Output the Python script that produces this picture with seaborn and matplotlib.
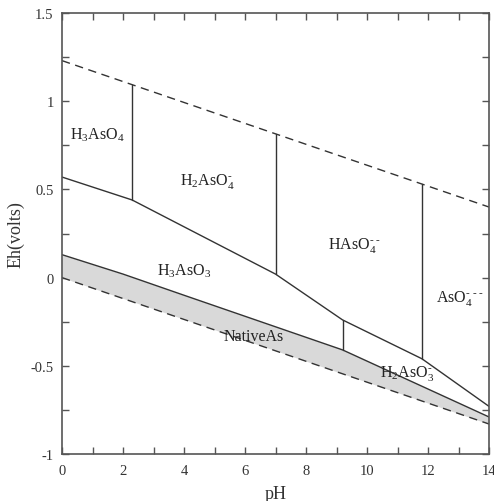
import matplotlib
matplotlib.use("Agg")
import matplotlib.pyplot as plt
import seaborn as sns
import numpy as np

# Boundary data (pH, Eh)
ph_upper = [0.0, 2.3, 7.0, 9.2, 11.8, 14.0]
eh_upper = [0.57, 0.44, 0.02, -0.24, -0.46, -0.73]
ph_lower = [0.0, 2.0, 4.0, 9.2, 14.0]
eh_lower = [0.13, 0.02, -0.10, -0.41, -0.79]
ph_water = [0.0, 14.0]
eh_water_top = [1.23, 0.40]
eh_water_bot = [0.0, -0.83]
ph_shade = [0.0, 2.0, 4.0, 9.2, 14.0]
eh_shade_bot = [0.0, -0.118, -0.236, -0.545, -0.83]

# Vertical boundaries: pH, bottom Eh, top Eh
vert_ph = [2.3, 7.0, 9.2, 11.8]
vert_bot = [0.44, 0.02, -0.41, -0.46]
vert_top = [1.09, 0.815, -0.24, 0.53]

D = "\\text{-}"
labels = ["H$_3$AsO$_4$", "H$_2$AsO$_4^{" + D + "}$",
          "HAsO$_4^{" + D + "\\,\\," + D + "}$",
          "H$_3$AsO$_3$", "NativeAs",
          "AsO$_4^{" + D + "\\,\\," + D + "\\,\\," + D + "}$",
          "H$_2$AsO$_3^{" + D + "}$"]
label_ph = [1.15, 4.75, 9.6, 4.0, 6.3, 13.05, 11.3]
label_eh = [0.81, 0.55, 0.19, 0.04, -0.33, -0.11, -0.54]

sns.set_theme(style="ticks")
plt.rcParams["font.family"] = ["Liberation Serif", "DejaVu Serif"]
plt.rcParams["mathtext.fontset"] = "custom"
plt.rcParams["mathtext.rm"] = "Liberation Serif"
plt.rcParams["mathtext.it"] = "Liberation Serif"
plt.rcParams["mathtext.bf"] = "Liberation Serif"

fig = plt.figure(figsize=(4.94, 5.02), dpi=100)
ax = fig.add_axes([62/494, 1 - 455/502, (489-62)/494, (455-14)/502])

lc = "#333333"
ax.fill_between(ph_shade, eh_shade_bot, eh_lower, color="#d9d9d9", lw=0, zorder=1)
sns.lineplot(x=ph_upper, y=eh_upper, ax=ax, color=lc, lw=1.0, estimator=None, sort=False)
sns.lineplot(x=ph_lower, y=eh_lower, ax=ax, color=lc, lw=1.0, estimator=None, sort=False)
sns.lineplot(x=ph_water, y=eh_water_top, ax=ax, color=lc, lw=1.0, estimator=None, sort=False,
             linestyle=(0, (6, 4)))
sns.lineplot(x=ph_water, y=eh_water_bot, ax=ax, color=lc, lw=1.0, estimator=None, sort=False,
             linestyle=(0, (6, 4)))
for p, b, t in zip(vert_ph, vert_bot, vert_top):
    sns.lineplot(x=[p, p], y=[b, t], ax=ax, color=lc, lw=1.0, estimator=None, sort=False)

for s, x, y in zip(labels, label_ph, label_eh):
    ax.text(x, y, s, ha="center", va="center", fontsize=11.5, color="#222222")

ax.set_xlim(0, 14)
ax.set_ylim(-1, 1.5)
ax.set_xticks(np.arange(0, 15, 2))
ax.set_xticks(np.arange(0, 15, 1), minor=True)
ax.set_yticks([-1, -0.5, 0, 0.5, 1, 1.5])
ax.set_yticklabels(["-1", "-0.5", "0", "0.5", "1", "1.5"])
ax.set_yticks(np.arange(-1, 1.51, 0.25), minor=True)
ax.tick_params(which="both", direction="in", top=True, right=True, colors="#555555",
               labelcolor="#333333", labelsize=10.5, width=1, length=5)
ax.tick_params(axis="x", which="major", pad=7)
ax.tick_params(axis="y", which="major", pad=6)
for sp in ax.spines.values():
    sp.set_color("#555555")
    sp.set_linewidth(1.2)
ax.set_xlabel("pH", fontsize=13, color="#333333", labelpad=6)
ax.set_ylabel("Eh(volts)", fontsize=13, color="#333333", labelpad=4)

fig.savefig("out.png", dpi=100)
